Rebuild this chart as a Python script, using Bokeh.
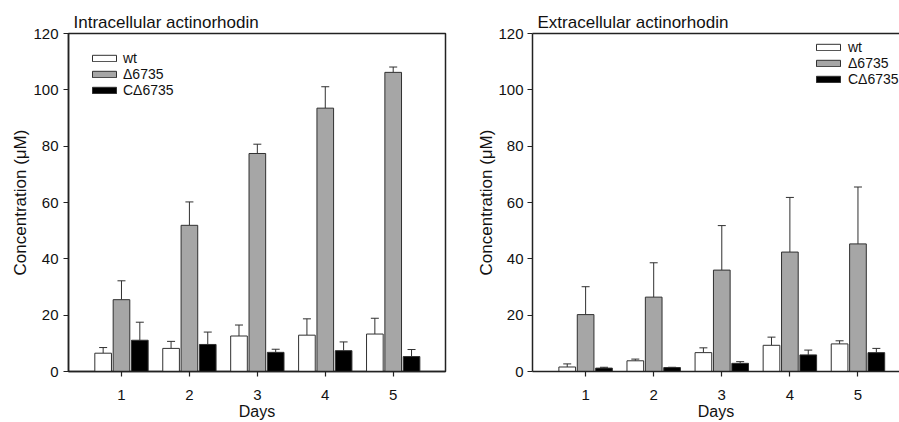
from bokeh.plotting import figure
from bokeh.models import ColumnDataSource, Whisker, TeeHead, Legend, LegendItem, LinearAxis, Range1d, FixedTicker
from bokeh.layouts import row
from bokeh.embed import file_html
from bokeh.resources import INLINE

days = [1, 2, 3, 4, 5]
series = ["wt", "\u03946735", "C\u03946735"]

intra_wt = [6.5, 8.2, 12.6, 12.9, 13.3]
intra_wt_err = [8.5, 10.7, 16.5, 18.7, 18.9]
intra_del = [25.5, 51.9, 77.4, 93.5, 106.2]
intra_del_err = [32.2, 60.2, 80.7, 101.1, 108.1]
intra_comp = [11.1, 9.6, 6.8, 7.4, 5.3]
intra_comp_err = [17.5, 14.0, 7.9, 10.5, 7.8]

extra_wt = [1.6, 3.8, 6.7, 9.3, 9.8]
extra_wt_err = [2.7, 4.4, 8.4, 12.2, 10.9]
extra_del = [20.2, 26.4, 36.0, 42.4, 45.3]
extra_del_err = [30.1, 38.6, 51.8, 61.8, 65.5]
extra_comp = [1.2, 1.4, 2.9, 5.9, 6.7]
extra_comp_err = [1.5, 1.5, 3.5, 7.6, 8.2]

y_ticks = [0, 20, 40, 60, 80, 100, 120]

FONT = "Liberation Sans"
fills = ["#ffffff", "#a6a6a6", "#000000"]
offsets = [-0.27, 0.0, 0.27]
BAR_W = 0.245
AX = "#222222"
TXT = "#111111"


def make_panel(title, vals, errs, width, min_left, x_end, legend_loc, has_right,
               tick_standoff, label_standoff, legend_standoff):
    p = figure(width=width, height=422, x_range=Range1d(0.22, x_end), y_range=Range1d(0, 120),
               output_backend="svg", toolbar_location=None,
               min_border_left=min_left, min_border_right=15 if has_right else 0,
               min_border_top=33, min_border_bottom=49)
    p.title.text = title
    p.title.text_font = FONT
    p.title.text_font_size = "17px"
    p.title.text_font_style = "normal"
    p.title.text_color = TXT
    p.title.offset = 5
    p.title.standoff = 3
    p.xgrid.visible = False
    p.ygrid.visible = False

    xa = p.below[0]
    ya = p.left[0]
    for ax in (xa, ya):
        ax.axis_line_width = 1.5
        ax.axis_line_color = AX
        ax.major_tick_line_color = AX
        ax.major_tick_line_width = 1.2
        ax.major_tick_out = 5
        ax.major_tick_in = 0
        ax.minor_tick_line_color = None
        ax.major_label_text_font = FONT
        ax.major_label_text_font_size = "15px"
        ax.major_label_text_color = TXT
        ax.axis_label_text_font = FONT
        ax.axis_label_text_font_size = "16px"
        ax.axis_label_text_font_style = "normal"
        ax.axis_label_text_color = TXT
    xa.ticker = FixedTicker(ticks=days)
    ya.ticker = FixedTicker(ticks=y_ticks)
    xa.axis_label = "Days"
    ya.axis_label = "Concentration (\u03bcM)"
    ya.axis_label_text_font_size = "17px"
    xa.major_label_standoff = 13
    xa.axis_label_standoff = 0
    ya.major_label_standoff = tick_standoff
    ya.axis_label_standoff = label_standoff

    if has_right:
        p.outline_line_color = AX
        p.outline_line_width = 1.5
    else:
        p.outline_line_color = None
        top = LinearAxis(ticker=FixedTicker(ticks=[]), major_tick_line_color=None,
                         minor_tick_line_color=None, major_label_text_font_size="0px",
                         major_label_standoff=0, major_tick_out=0, major_tick_in=0,
                         axis_line_color=AX, axis_line_width=1.5)
        p.add_layout(top, "above")

    items = []
    for i in range(3):
        xs = [d + offsets[i] for d in days]
        src = ColumnDataSource(dict(x=xs, top=vals[i], err=errs[i]))
        r = p.vbar(x="x", top="top", width=BAR_W, bottom=0, source=src,
                   fill_color=fills[i], line_color="#303030", line_width=1)
        w = Whisker(base="x", lower="top", upper="err", source=src, dimension="height",
                    line_color="#303030", line_width=1,
                    upper_head=TeeHead(size=8, line_color="#303030", line_width=1),
                    lower_head=None)
        p.add_layout(w)
        items.append(LegendItem(label=series[i], renderers=[r]))

    leg = Legend(items=items, location=legend_loc, glyph_width=30, glyph_height=8,
                 label_height=14, spacing=0, padding=0, margin=0,
                 label_text_font=FONT, label_text_font_size="14px",
                 label_standoff=legend_standoff, label_text_color=TXT,
                 border_line_alpha=0, background_fill_alpha=0)
    p.add_layout(leg)
    return p


p1 = make_panel("Intracellular actinorhodin", [intra_wt, intra_del, intra_comp],
                [intra_wt_err, intra_del_err, intra_comp_err], 460, 68, 5.77, (21, 273), True,
                5, 0, 4)
p2 = make_panel("Extracellular actinorhodin", [extra_wt, extra_del, extra_comp],
                [extra_wt_err, extra_del_err, extra_comp_err], 439, 72, 5.61, (281, 284), False,
                4, -1, 5)

layout = row(p1, p2)
open("out.html", "w").write(file_html(layout, INLINE))
